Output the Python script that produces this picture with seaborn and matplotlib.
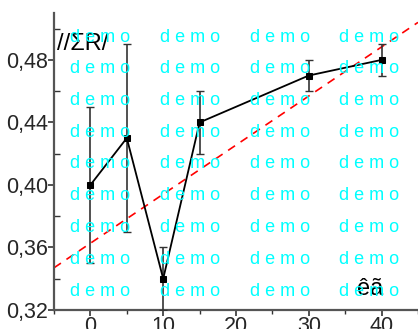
import numpy as np
import pandas as pd
import matplotlib
matplotlib.use("Agg")
import matplotlib.pyplot as plt
import seaborn as sns
from matplotlib.ticker import MultipleLocator

# datos
x_vals = [0, 5, 10, 15, 30, 40]
y_vals = [0.40, 0.43, 0.34, 0.44, 0.47, 0.48]
y_err = [0.05, 0.06, 0.02, 0.02, 0.01, 0.01]

# recta discontinua roja
fit_x = [-5, 45]
fit_y = [0.347, 0.504]

x_ticks = [0, 10, 20, 30, 40]
y_ticks = [0.32, 0.36, 0.40, 0.44, 0.48]

sns.set_theme(style="white")
plt.rcParams['font.family'] = ['Liberation Sans', 'DejaVu Sans']

fig = plt.figure(figsize=(4.18, 3.29), dpi=100)
ax = fig.add_axes([54 / 418, 1 - 310 / 329, 1 - 54 / 418, (310 - 13) / 329])

df = pd.DataFrame({'x': x_vals, 'y': y_vals})
df_fit = pd.DataFrame({'x': fit_x, 'y': fit_y})

sns.lineplot(data=df_fit, x='x', y='y', ax=ax, color='red', lw=1.2,
             dashes=False, zorder=2).lines[0].set_dashes([5, 4])
ax.errorbar(x_vals, y_vals, yerr=y_err, fmt='none', ecolor='#333333',
            elinewidth=1.2, capsize=3, capthick=1.0, zorder=3)
sns.lineplot(data=df, x='x', y='y', ax=ax, color='black', lw=1.3,
             marker='s', markersize=5, markeredgecolor='black', zorder=4)

ax.set_xlim(-5, 45)
ax.set_ylim(0.32, 0.51)
ax.set_xticks(x_ticks)
ax.set_yticks(y_ticks)
ax.xaxis.set_minor_locator(MultipleLocator(5))
ax.yaxis.set_minor_locator(MultipleLocator(0.02))
ax.set_yticklabels([f"{v:.2f}".replace('.', ',') for v in y_ticks])
ax.set_xlabel('')
ax.set_ylabel('')

for s in ['top', 'right']:
    ax.spines[s].set_visible(False)
for s in ['left', 'bottom']:
    ax.spines[s].set_color('#555555')
    ax.spines[s].set_linewidth(1.6)

ax.tick_params(axis='both', which='major', labelsize=15.5, length=4, width=1.2,
               color='#333333', pad=0, direction='out', left=True, bottom=True)
ax.tick_params(axis='y', which='minor', length=4, width=1.0, color='#333333',
               direction='in', left=True)
ax.tick_params(axis='x', which='minor', length=3, width=1.0, color='#333333',
               direction='out', bottom=True)

fig.text(57 / 418, 1 - 50 / 329, '//ΣR/', fontsize=17, color='black', va='baseline')
fig.text(357 / 418, 1 - 295 / 329, 'êã', fontsize=17, color='black', va='baseline')

# marca de agua
for fila in range(9):
    yy = 37 + fila * 31.75
    for xx in [70, 160, 250, 339]:
        fig.text(xx / 418, 1 - yy / 329, 'd e m o', fontsize=13, color='#00FFFF',
                 va='center', ha='left', zorder=10)

fig.savefig('out.png', dpi=100)
